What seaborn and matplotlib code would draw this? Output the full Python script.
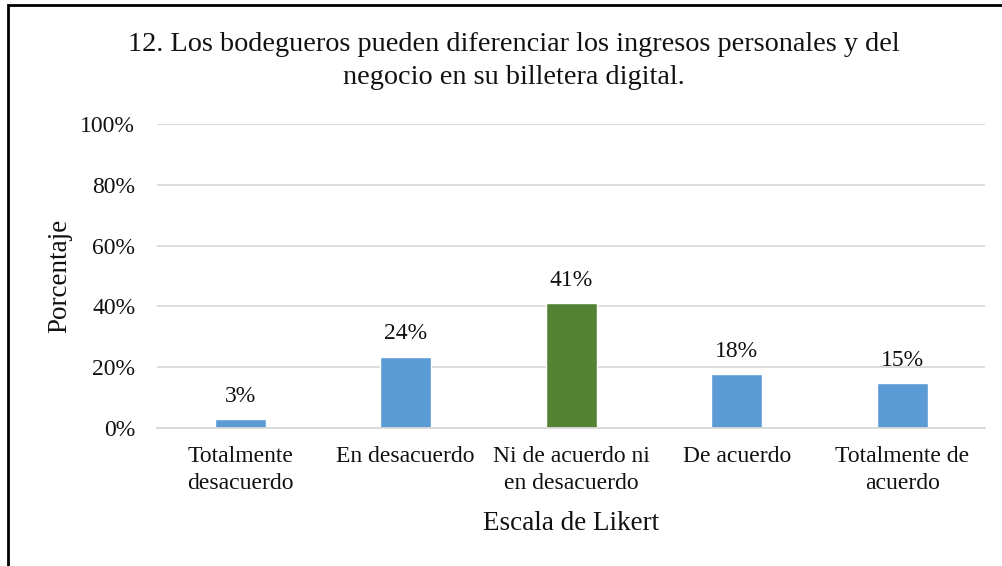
import matplotlib
matplotlib.use("Agg")
import matplotlib.pyplot as plt
from matplotlib.patches import Rectangle
from matplotlib.ticker import PercentFormatter
import pandas as pd
import seaborn as sns

# # DATA

categories = ["Totalmente\ndesacuerdo", "En desacuerdo",
              "Ni de acuerdo ni\nen desacuerdo", "De acuerdo",
              "Totalmente de\nacuerdo"]
percentages = [0.029, 0.234, 0.41, 0.176, 0.147]
value_labels = ["3%", "24%", "41%", "18%", "15%"]
bar_colors = ["#5B9BD5", "#5B9BD5", "#548235", "#5B9BD5", "#5B9BD5"]
title_text = ("12. Los bodegueros pueden diferenciar los ingresos personales y del\n"
              "negocio en su billetera digital.")

df = pd.DataFrame({"escala": categories, "porcentaje": percentages})

# # STYLE

sns.set_theme(style="white")
plt.rcParams["font.family"] = ["Liberation Serif", "DejaVu Serif"]
txt_color = "#111111"

fig = plt.figure(figsize=(10.03, 5.66), dpi=100)
ax = fig.add_axes([0.157, 0.244, 0.825, 0.537])

sns.barplot(data=df, x="escala", y="porcentaje", hue="escala",
            palette=bar_colors, legend=False, width=0.31,
            saturation=1, ax=ax)

# value labels above the bars
for i, (v, lab) in enumerate(zip(percentages, value_labels)):
    ax.annotate(lab, (i, v), xytext=(0, 12.5), textcoords="offset points",
                ha="center", va="baseline", fontsize=17, color=txt_color)

ax.set_ylim(0, 1)
ax.set_yticks([0, 0.2, 0.4, 0.6, 0.8, 1.0])
ax.yaxis.set_major_formatter(PercentFormatter(1.0, decimals=0))
ax.grid(axis="y", color="#d9d9d9", linewidth=1.3)
ax.set_axisbelow(True)
for side in ["top", "right", "left"]:
    ax.spines[side].set_visible(False)
ax.spines["bottom"].set_color("#d9d9d9")
ax.spines["bottom"].set_linewidth(1.3)

ax.tick_params(axis="y", length=0, pad=16, labelsize=17, labelcolor=txt_color)
ax.tick_params(axis="x", length=0, pad=13, labelsize=17, labelcolor=txt_color)
for t in ax.get_xticklabels():
    t.set_linespacing(1.38)
ax.set_xlabel("Escala de Likert", fontsize=19.5, color=txt_color, labelpad=12)
ax.set_ylabel("Porcentaje", fontsize=19.5, color=txt_color, labelpad=6)

fig.text(0.512, 0.943, title_text, ha="center", va="top",
         fontsize=20.3, color=txt_color, linespacing=1.4)

# outer border of the chart box (cut on right and bottom like the original)
fig.patches.append(Rectangle((0.008, -0.1), 1.2, 1.091, transform=fig.transFigure,
                             fill=False, edgecolor="black", linewidth=2))

plt.savefig("out.png", dpi=100)
plt.close()
